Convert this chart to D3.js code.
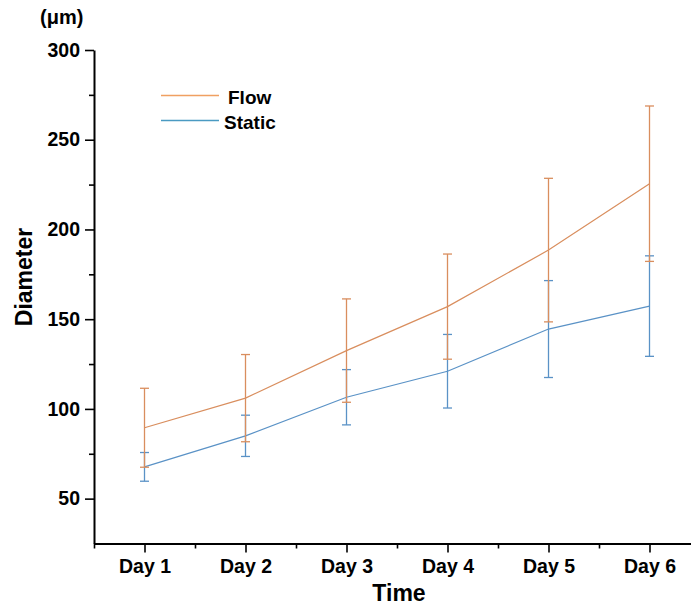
<!DOCTYPE html>
<html>
<head>
<meta charset="utf-8">
<script src="https://cdn.jsdelivr.net/npm/d3@7"></script>
<style>
  body { margin: 0; background: #fff; }
  svg { display: block; font-family: 'Liberation Sans', Arial, sans-serif; font-weight: bold; }
</style>
</head>
<body>
<svg width="691" height="607"></svg>
<script>
var days = ['Day 1', 'Day 2', 'Day 3', 'Day 4', 'Day 5', 'Day 6']
var flowMean = [89.5, 106, 132.5, 157, 188.5, 225.5]
var flowErr = [22, 24.3, 28.8, 29.3, 40, 43.3]
var staticMean = [67.7, 85, 106.5, 121, 144.5, 157.3]
var staticErr = [8, 11.5, 15.4, 20.5, 27, 28]
var yTicks = [50, 100, 150, 200, 250, 300]
var yMinor = [75, 125, 175, 225, 275]

var svg = d3.select('svg')

var x = d3.scaleLinear().domain([0.5, 6.5]).range([94, 700])
var y = d3.scaleLinear().domain([25, 300]).range([543.5, 50])

var series = [
  { name: 'Static', mean: staticMean, err: staticErr, color: '#5a92c6', legend: '#4a9ac2' },
  { name: 'Flow', mean: flowMean, err: flowErr, color: '#d98e5e', legend: '#f0a062' }
]

// axes
svg.append('g')
  .attr('transform', 'translate(94,0)')
  .call(d3.axisLeft(y).tickValues(yTicks).tickSize(9).tickSizeOuter(0).tickPadding(5))
var yMinorAxis = svg.append('g')
  .attr('transform', 'translate(94,0)')
  .call(d3.axisLeft(y).tickValues(yMinor).tickSize(5).tickFormat(''))
yMinorAxis.select('.domain').remove()

svg.append('g')
  .attr('transform', 'translate(0,543.5)')
  .call(d3.axisBottom(x).tickValues(d3.range(1, 7)).tickSize(9).tickSizeOuter(0)
    .tickFormat(function(d) { return days[d - 1] }).tickPadding(7))
var xMinorAxis = svg.append('g')
  .attr('transform', 'translate(0,543.5)')
  .call(d3.axisBottom(x).tickValues(d3.range(0.5, 7, 1)).tickSize(5).tickFormat(''))
xMinorAxis.select('.domain').remove()

svg.selectAll('.domain').attr('stroke', '#000').attr('stroke-width', 2)
svg.selectAll('.tick line').attr('stroke', '#000').attr('stroke-width', 1.6)
svg.selectAll('.tick text')
  .attr('fill', '#000')
  .attr('font-size', 19.5)
  .attr('font-family', 'Liberation Sans, Arial, sans-serif')
  .attr('font-weight', 'bold')

// titles
svg.append('text')
  .attr('x', 399).attr('y', 601)
  .attr('text-anchor', 'middle')
  .attr('font-size', 23)
  .attr('fill', '#000')
  .text('Time')

svg.append('text')
  .attr('transform', 'translate(32,277) rotate(-90)')
  .attr('text-anchor', 'middle')
  .attr('font-size', 23)
  .attr('fill', '#000')
  .text('Diameter')

svg.append('text')
  .attr('x', 40).attr('y', 24)
  .attr('font-size', 20)
  .attr('fill', '#000')
  .text('(μm)')

// series
var line = d3.line()
  .x(function(d, i) { return x(i + 1) })
  .y(function(d) { return y(d) })

series.forEach(function(s) {
  var g = svg.append('g')
  g.append('path')
    .datum(s.mean)
    .attr('fill', 'none')
    .attr('stroke', s.color)
    .attr('stroke-width', 1.2)
    .attr('d', line)

  var bars = g.selectAll('.eb').data(s.mean).enter().append('g')
  bars.append('line')
    .attr('x1', function(d, i) { return x(i + 1) })
    .attr('x2', function(d, i) { return x(i + 1) })
    .attr('y1', function(d, i) { return y(d - s.err[i]) })
    .attr('y2', function(d, i) { return y(d + s.err[i]) })
    .attr('stroke', s.color).attr('stroke-width', 1.3)
  bars.append('line')
    .attr('x1', function(d, i) { return x(i + 1) - 4.5 })
    .attr('x2', function(d, i) { return x(i + 1) + 4.5 })
    .attr('y1', function(d, i) { return y(d + s.err[i]) })
    .attr('y2', function(d, i) { return y(d + s.err[i]) })
    .attr('stroke', s.color).attr('stroke-width', 1.3)
  bars.append('line')
    .attr('x1', function(d, i) { return x(i + 1) - 4.5 })
    .attr('x2', function(d, i) { return x(i + 1) + 4.5 })
    .attr('y1', function(d, i) { return y(d - s.err[i]) })
    .attr('y2', function(d, i) { return y(d - s.err[i]) })
    .attr('stroke', s.color).attr('stroke-width', 1.3)
})

// legend
var legendItems = [
  { name: 'Flow', color: series[1].legend, y: 95.5, tx: 228 },
  { name: 'Static', color: series[0].legend, y: 120.5, tx: 224 }
]
var lg = svg.append('g').selectAll('g').data(legendItems).enter().append('g')
lg.append('line')
  .attr('x1', 161).attr('x2', 219)
  .attr('y1', function(d) { return d.y }).attr('y2', function(d) { return d.y })
  .attr('stroke', function(d) { return d.color })
  .attr('stroke-width', 1.6)
lg.append('text')
  .attr('x', function(d) { return d.tx })
  .attr('y', function(d) { return d.y + 8.5 })
  .attr('font-size', 19)
  .attr('fill', '#000')
  .text(function(d) { return d.name })
</script>
</body>
</html>
